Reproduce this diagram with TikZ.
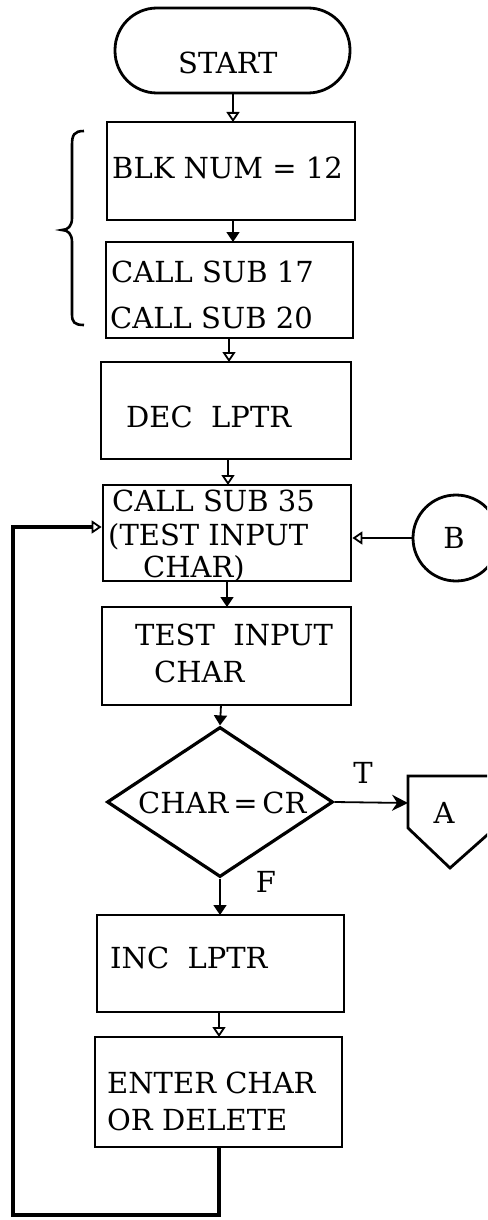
\documentclass[tikz,border=0pt]{standalone}
\usepackage{fontspec}
\setmainfont{DejaVu Serif}
\usetikzlibrary{arrows.meta,shapes.geometric,calc}
\begin{document}
\begin{tikzpicture}[x=1pt,y=-1pt,
  box/.style={draw,line width=2.8pt,rectangle,inner sep=0pt},
  txt/.style={anchor=base west,inner sep=0pt,font=\fontsize{29}{34}\selectfont},
  ctxt/.style={anchor=base,inner sep=0pt,font=\fontsize{29}{34}\selectfont},
  flow/.style={line width=1.8pt},
  oarr/.style={flow,-{Triangle[open,length=10pt,width=13pt]}},
  farr/.style={flow,-{Triangle[length=10pt,width=13pt]}},
  loopline/.style={line width=4pt}]
\useasboundingbox (0,0) rectangle (487,1220);
\clip (0,0) rectangle (487,1220);
% terminal
\node[draw,line width=2.8pt,rectangle,rounded corners=42pt,minimum width=235pt,minimum height=85pt,inner sep=0pt] (start) at (232.5,50.5) {};
\node[txt] (tstart) at (178,74) {START};
% boxes
\node[box,minimum width=248pt,minimum height=98pt] (blk) at (231,171) {};
\node[txt] at (112,178) {BLK NUM = 12};
\node[box,minimum width=247pt,minimum height=96pt] (call) at (229.5,290) {};
\node[txt] at (111,282) {CALL SUB 17};
\node[txt] at (110,328) {CALL SUB 20};
\node[box,minimum width=250pt,minimum height=97pt] (dec) at (226,410.5) {};
\node[txt] at (126,427) {DEC\ \ LPTR};
\node[box,minimum width=248pt,minimum height=96pt] (cs) at (227,533) {};
\node[txt] at (112,511) {CALL SUB 35};
\node[txt] at (108,545) {(TEST INPUT};
\node[txt] at (143,577) {CHAR)};
\node[box,minimum width=249pt,minimum height=98pt] (test) at (226.5,656) {};
\node[txt] at (135,645) {TEST\ \ INPUT};
\node[txt] at (154,682) {CHAR};
\node[draw,line width=3.2pt,diamond,aspect=1.5,minimum width=226pt,minimum height=150pt,inner sep=0pt] (dia) at (220,802) {};
\node[txt] at (138,813) {CHAR\,=\,CR};
\node[box,minimum width=247pt,minimum height=97pt] (inc) at (220.5,963.5) {};
\node[txt] at (110,968) {INC\ \ LPTR};
\node[box,minimum width=247pt,minimum height=110pt] (ent) at (218.5,1092) {};
\node[txt] at (107,1093) {ENTER CHAR};
\node[txt] at (107,1130) {OR DELETE};
% connectors B and A
\node[draw,circle,line width=2.8pt,minimum size=86pt,inner sep=0pt] (B) at (456,538) {};
\node[ctxt] at (454,548) {B};
\draw[line width=2.8pt,line join=miter] (408,776) -- (495,776) -- (495,828) -- (450,868) -- (408,828) -- cycle;
\coordinate (Ain) at (408,803);
\node[ctxt] at (444,823) {A};
\node[ctxt] at (363,783) {T};
\node[ctxt] at (266,892) {F};
% brace
\draw[line width=2.6pt] (84,131) .. controls (74,131) and (72,135) .. (72,145) -- (72,218) .. controls (72,226) and (68,230) .. (62,230) .. controls (68,230) and (72,234) .. (72,242) -- (72,314) .. controls (72,322) and (74,325) .. (84,325);
% flow
\draw[oarr] (233,93) -- (233,122);
\draw[farr] (233,220) -- (233,242);
\draw[oarr] (229,338) -- (229,362);
\draw[oarr] (228,459) -- (228,485);
\draw[farr] (227,581) -- (227,607);
\draw[farr] (221,705) -- (dia.north);
\draw[farr] (dia.south) -- (220,915);
\draw[oarr] (219,1012) -- (219,1037);
\draw[oarr] (B.west) -- (cs.east |- B.west);
\draw[flow,-{Stealth[length=16pt,width=16pt]}] (dia.east) -- (Ain);
\draw[loopline] (ent.south) -- (ent.south |- 0,1215) -- (13,1215) -- (13,527) -- (92,527);
\draw[oarr] (90,527) -- (cs.west |- 0,527);
\end{tikzpicture}
\end{document}
